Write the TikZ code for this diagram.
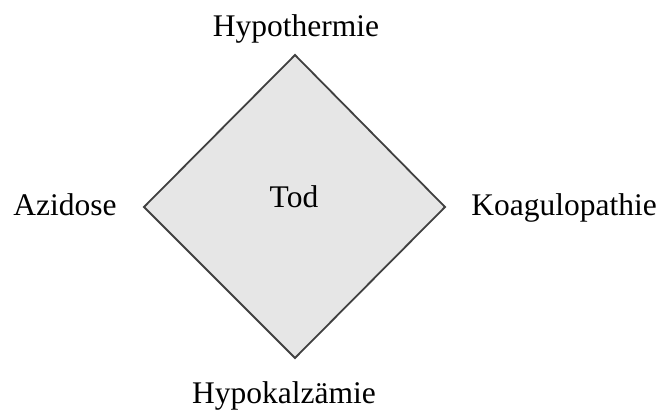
\documentclass[tikz,border=0pt]{standalone}
\usepackage{fontspec}
\setmainfont{Liberation Serif}
\definecolor{dfill}{HTML}{E6E6E6}
\definecolor{dline}{HTML}{404040}
\begin{document}
\begin{tikzpicture}[x=1pt,y=1pt,
  lbl/.style={anchor=base,inner sep=0pt,font=\fontsize{31.5}{36}\selectfont}]
\useasboundingbox (0,0) rectangle (661,410);
\coordinate (t) at (295,355);
\coordinate (l) at (144,203);
\coordinate (r) at (445,203);
\coordinate (b) at (295,52);
\draw[dline,fill=dfill,line width=1.8pt,line join=miter] (t) -- (r) -- (b) -- (l) -- cycle;
\node[lbl] (tod) at (294,202) {Tod};
\node[lbl] (hth) at (296,373) {Hypothermie};
\node[lbl] (azi) at (65,194) {Azidose};
\node[lbl] (koa) at (564,194) {Koagulopathie};
\node[lbl] (hyk) at (284,7) {Hypokalzämie};
\end{tikzpicture}
\end{document}
